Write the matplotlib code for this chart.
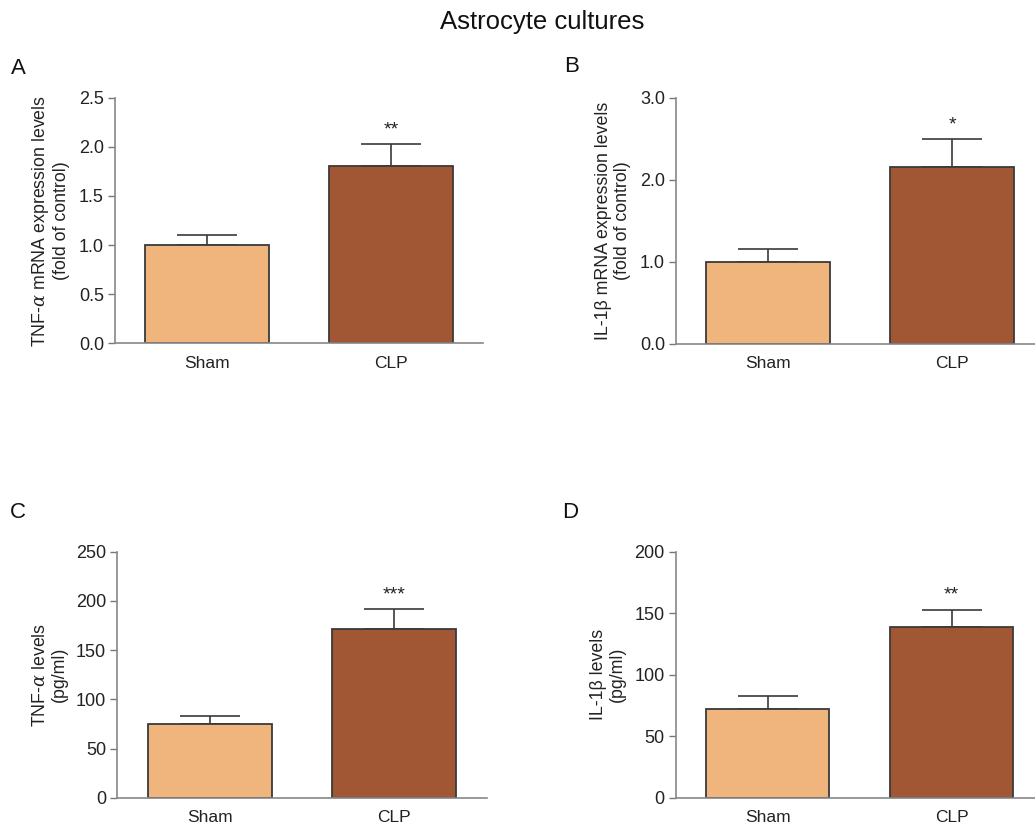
import matplotlib
matplotlib.use('Agg')
from matplotlib import pyplot as plt

plt.rcParams['font.family'] = ['Liberation Sans', 'DejaVu Sans']
plt.rcParams['mathtext.fontset'] = 'dejavuserif'

groups = ['Sham', 'CLP']
colors = ['#F0B57C', '#A15733']

# panel A: TNF-a mRNA
tnf_mrna = [1.00, 1.80]
tnf_mrna_sem = [0.10, 0.23]
# panel B: IL-1b mRNA
il1_mrna = [1.00, 2.15]
il1_mrna_sem = [0.15, 0.35]
# panel C: TNF-a protein
tnf_prot = [75, 171]
tnf_prot_sem = [8, 21]
# panel D: IL-1b protein
il1_prot = [72, 139]
il1_prot_sem = [11, 14]

stars = [['', '**'], ['', '*'], ['', '***'], ['', '**']]

W, H = 1035, 831
fig = plt.figure(figsize=(W / 100, H / 100), dpi=100)


def px_axes(left, top, width, height):
    return fig.add_axes([left / W, (H - top - height) / H, width / W, height / H])


def panel(ax, vals, sems, marks, ylim, yticks, ticklabels, ylabel):
    x = range(len(groups))
    ax.bar(x, vals, width=0.67, color=colors, edgecolor='#3a3a3a',
           linewidth=1.3, zorder=2)
    ax.errorbar(x, vals, yerr=[[0] * len(sems), sems], fmt='none',
                ecolor='#3a3a3a', elinewidth=1.2, capsize=21.6, capthick=1.2,
                zorder=1)
    for i, m in enumerate(marks):
        if m:
            ax.annotate(m, (i, vals[i] + sems[i]), xytext=(0, 4),
                        textcoords='offset points', ha='center', va='bottom',
                        fontsize=14, color='#222222')
    ax.set_xlim(-0.5, 1.5)
    ax.set_ylim(*ylim)
    ax.set_yticks(yticks)
    ax.set_yticklabels(ticklabels, fontsize=13, color='#222222')
    ax.set_xticks(list(x))
    ax.set_xticklabels(groups, fontsize=12.5, color='#222222')
    ax.tick_params(axis='x', length=0, pad=9)
    ax.tick_params(axis='y', length=5, width=1, color='#777777', pad=3)
    for s in ['top', 'right']:
        ax.spines[s].set_visible(False)
    for s in ['left', 'bottom']:
        ax.spines[s].set_color('#888888')
        ax.spines[s].set_linewidth(1.2)
    ax.set_ylabel(ylabel, fontsize=12.8, color='#222222', labelpad=6,
                  linespacing=1.15)


axA = px_axes(115, 97.7, 368, 245.6)
panel(axA, tnf_mrna, tnf_mrna_sem, stars[0], (0, 2.5), [0, 0.5, 1.0, 1.5, 2.0, 2.5],
      ['0.0', '0.5', '1.0', '1.5', '2.0', '2.5'],
      'TNF-$\\alpha$ mRNA expression levels\n(fold of control)')

axB = px_axes(676, 97.7, 368, 246)
panel(axB, il1_mrna, il1_mrna_sem, stars[1], (0, 3.0), [0, 1.0, 2.0, 3.0],
      ['0.0', '1.0', '2.0', '3.0'],
      'IL-1β mRNA expression levels\n(fold of control)')

axC = px_axes(117.3, 551.7, 369.4, 246)
panel(axC, tnf_prot, tnf_prot_sem, stars[2], (0, 250), [0, 50, 100, 150, 200, 250],
      ['0', '50', '100', '150', '200', '250'],
      'TNF-$\\alpha$ levels\n(pg/ml)')

axD = px_axes(675.7, 551.7, 368, 246)
panel(axD, il1_prot, il1_prot_sem, stars[3], (0, 200), [0, 50, 100, 150, 200],
      ['0', '50', '100', '150', '200'],
      'IL-1β levels\n(pg/ml)')

fig.text(542 / W, 1 - 22 / H, 'Astrocyte cultures', ha='center', va='center',
         fontsize=18.5, color='#111111')
for lab, (px, py) in zip('ABCD', [(18, 68), (572, 67), (18, 512), (570, 512)]):
    fig.text(px / W, 1 - py / H, lab, ha='center', va='center', fontsize=16,
             color='#111111')

fig.savefig('out.png', dpi=100)
